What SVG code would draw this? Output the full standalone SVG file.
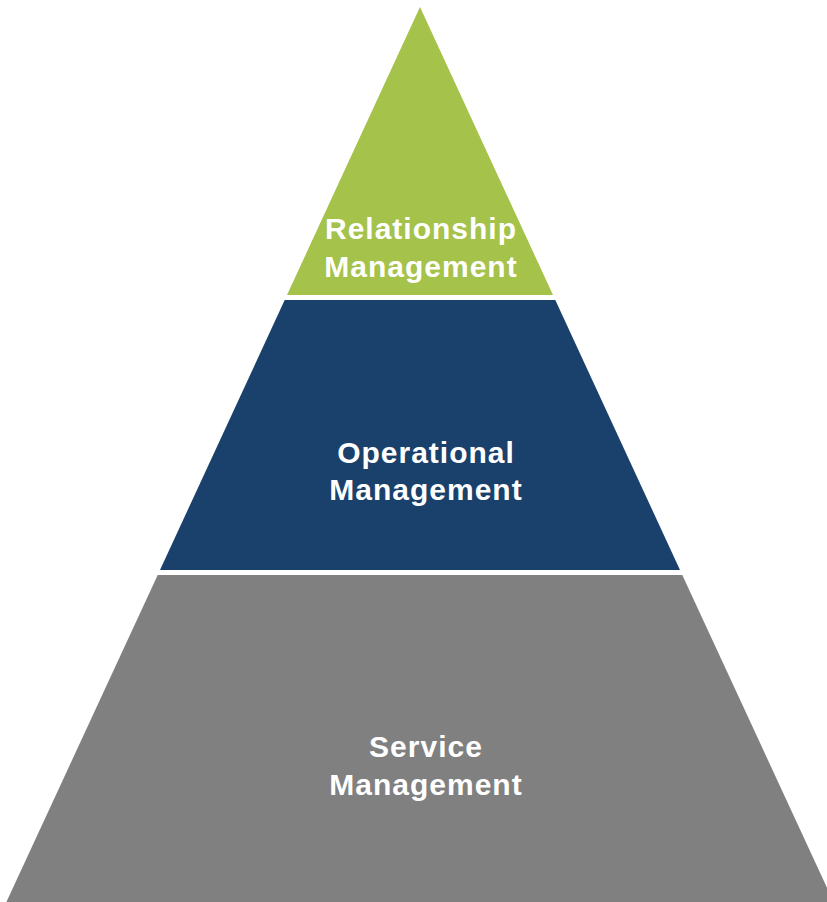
<svg xmlns="http://www.w3.org/2000/svg" width="827" height="902" viewBox="0 0 827 902">
  <style>
    .lbl { font-family: "Liberation Sans", Arial, sans-serif; font-weight: bold; font-size: 30px; letter-spacing: 1px; fill: #ffffff; text-anchor: middle; }
  </style>
  <rect width="827" height="902" fill="#ffffff"/>
  <!-- Top tier -->
  <g id="relationship">
    <polygon points="420,7 553,295 287,295" fill="#A5C24A"/>
    <text class="lbl" x="421" y="239">Relationship</text>
    <text class="lbl" x="421" y="277">Management</text>
  </g>
  <!-- Middle tier -->
  <g id="operational">
    <polygon points="284.7,300 555.3,300 680,570 160,570" fill="#1A406C"/>
    <text class="lbl" x="426" y="463">Operational</text>
    <text class="lbl" x="426" y="500">Management</text>
  </g>
  <!-- Bottom tier -->
  <g id="service">
    <polygon points="157.7,575 682.3,575 835,905 5,905" fill="#808080"/>
    <text class="lbl" x="426" y="757">Service</text>
    <text class="lbl" x="426" y="795">Management</text>
  </g>
  <g id="connectors"/>
</svg>
